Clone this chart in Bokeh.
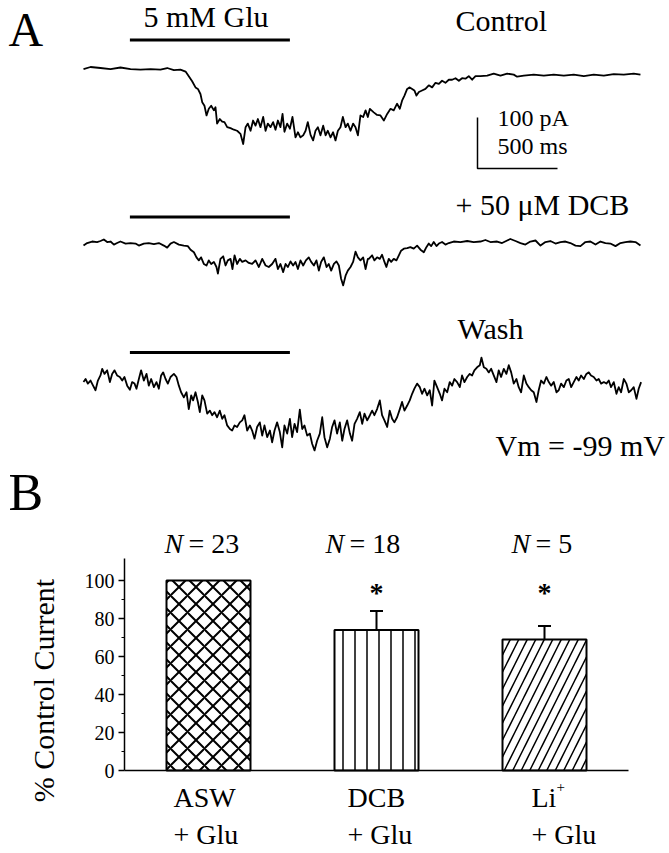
from bokeh.plotting import figure
from bokeh.models import Range1d, Label, FixedTicker, ColumnDataSource, Whisker, TeeHead
from bokeh.layouts import column
from bokeh.embed import file_html
from bokeh.resources import INLINE

SERIF = "Liberation Serif"

# ---------------- Panel A data: membrane current traces (ms, pA) ----------------
control_t = [0, 44, 106, 169, 231, 294, 356, 419, 481, 523, 565, 606, 638, 658, 679, 700, 715, 731, 742, 756,
             769, 783, 798, 815, 825, 835, 852, 867, 881, 898, 919, 940, 960, 981, 998, 1013, 1027, 1044, 1060, 1075,
             1090, 1106, 1123, 1138, 1152, 1169, 1185, 1200, 1215, 1231, 1244, 1256, 1273, 1290, 1306, 1325, 1340, 1356, 1373, 1388,
             1402, 1419, 1435, 1450, 1465, 1481, 1498, 1513, 1527, 1544, 1560, 1575, 1590, 1606, 1621, 1638, 1652, 1669, 1685, 1700,
             1715, 1731, 1748, 1763, 1777, 1790,
             1814, 1835, 1856, 1877, 1898, 1919, 1939, 1960, 1977, 1991, 2006, 2023, 2039, 2054, 2068, 2081, 2096, 2116, 2137, 2158,
             2179, 2200, 2221, 2241, 2262, 2283, 2304, 2325, 2346, 2366, 2387, 2408, 2429, 2450, 2481, 2523, 2564, 2606, 2648, 2689,
             2710, 2752, 2814, 2877, 2939, 3002, 3064, 3127, 3189, 3252, 3314, 3377, 3439, 3481]
control_pa = [-3, 1, -1, -3, 0, -3, -4, -3, -4, -1, -5, -4, -8, -17, -27, -39, -42, -52, -68, -75,
              -94, -81, -75, -84, -78, -110, -101, -106, -107, -117, -119, -122, -124, -130, -150, -117, -110, -124, -104, -114,
              -101, -117, -97, -124, -110, -117, -107, -122, -104, -117, -91, -126, -110, -120, -97, -137, -127, -137, -133, -124,
              -107, -132, -143, -124, -117, -133, -114, -133, -124, -137, -127, -143, -124, -117, -97, -117, -110, -124, -110, -117,
              -133, -94, -97, -84, -97, -81,
              -88, -93, -94, -104, -91, -81, -84, -71, -81, -65, -55, -42, -39, -42, -45, -55, -48, -45, -42, -35,
              -39, -30, -32, -26, -30, -24, -24, -21, -26, -21, -22, -17, -24, -17, -17, -16, -12, -16, -12, -14,
              -18, -16, -14, -16, -14, -16, -14, -17, -14, -16, -13, -14, -12, -14]

dcb_t = [0, 23, 54, 85, 106, 127, 148, 169, 190, 210, 231, 263, 294, 325, 346, 377, 408, 440, 471, 502,
         523, 544, 565, 596, 627, 652, 669, 690, 706, 721, 735, 752, 769, 783, 798, 815, 831, 840, 856, 873,
         888, 902, 919, 931, 944, 960, 977, 992, 1013, 1033, 1054, 1075, 1096, 1117, 1138, 1158, 1179, 1200, 1215, 1231,
         1248, 1263, 1277, 1294, 1310, 1325, 1340, 1356, 1373, 1390, 1408, 1423, 1440, 1456, 1471, 1485, 1502, 1519, 1533, 1548,
         1565, 1581, 1596, 1610, 1623, 1638, 1652, 1669, 1685, 1700, 1715, 1731, 1748, 1763, 1777,
         1783, 1804, 1818, 1835, 1852, 1866, 1881, 1893, 1908, 1923, 1939, 1956, 1971, 1985, 2002, 2023, 2043, 2064, 2085, 2106,
         2127, 2143, 2158, 2173, 2189, 2206, 2221, 2241, 2262, 2283, 2314, 2356, 2398, 2439, 2481, 2512, 2543, 2585, 2616, 2648,
         2668, 2700, 2731, 2762, 2793, 2825, 2856, 2887, 2918, 2950, 2981, 3012, 3043, 3075, 3106, 3137, 3168, 3200, 3231, 3262,
         3293, 3325, 3356, 3387, 3418, 3450, 3481]
dcb_pa = [-10, -5, -2, -3, -1, 2, -3, -2, -8, -5, -2, -6, -5, -6, -10, -6, -5, -7, -5, -10,
          -14, -6, -3, -8, -10, -11, -18, -23, -33, -39, -33, -46, -49, -39, -46, -42, -52, -65, -36, -31,
          -49, -39, -36, -56, -29, -46, -36, -42, -39, -44, -46, -39, -52, -36, -49, -52, -46, -36, -56, -46,
          -62, -46, -52, -41, -49, -42, -56, -39, -49, -39, -33, -42, -49, -39, -59, -42, -33, -52, -46, -59,
          -46, -41, -49, -75, -88, -69, -59, -52, -42, -22, -33, -39, -33, -56, -36,
          -36, -29, -39, -33, -36, -28, -42, -52, -36, -42, -36, -39, -29, -20, -16, -15, -13, -16, -10, -18,
          -23, -13, -6, -11, -3, -11, -6, -3, -8, -5, -2, -3, -1, -3, -2, 1, -3, -2, -5, 0,
          3, -1, -5, -8, -2, 0, -10, -3, -1, -6, -3, -2, -5, -10, -11, -3, -2, -8, -2, -5,
          -6, -11, -5, -3, -2, -3, -10]

wash_t = [0, 13, 27, 44, 60, 75, 90, 106, 117, 131, 148, 165, 179, 194, 210, 227, 242, 256, 273, 290,
          304, 319, 331, 346, 360, 377, 394, 408, 423, 440, 456, 471, 485, 498, 513, 527, 544, 565, 581, 596,
          610, 627, 644, 658, 673, 685, 700, 715, 727, 742, 756, 773, 790, 804, 819, 835, 852, 867, 881, 898,
          915, 929, 944, 960, 977, 992, 1006, 1023, 1040, 1054, 1069, 1085, 1102, 1117, 1131, 1148, 1165, 1179, 1194, 1210,
          1227, 1242, 1256, 1273, 1290, 1304, 1319, 1335, 1352, 1367, 1381, 1398, 1415, 1429, 1444, 1460, 1477, 1492, 1506, 1523,
          1540, 1554, 1569, 1585, 1602, 1617, 1631, 1648, 1665, 1679, 1694, 1710, 1727, 1742, 1756, 1773, 1790,
          1804, 1818, 1835, 1852, 1866, 1881, 1898, 1914, 1929, 1943, 1960, 1977, 1991, 2006, 2023, 2039, 2054, 2068, 2085, 2102,
          2116, 2131, 2148, 2164, 2179, 2193, 2210, 2227, 2241, 2256, 2273, 2289, 2304, 2318, 2335, 2352, 2366, 2381, 2398, 2414,
          2429, 2443, 2460, 2477, 2487, 2502, 2518, 2533, 2548, 2564, 2581, 2595, 2610, 2627, 2643, 2658, 2673, 2689, 2706, 2720,
          2735, 2752, 2768, 2783, 2798, 2814, 2831, 2845, 2860, 2877, 2893, 2908, 2923, 2939, 2956, 2970, 2985, 3002, 3018, 3033,
          3048, 3064, 3081, 3095, 3110, 3127, 3143, 3158, 3172, 3189, 3206, 3220, 3235, 3252, 3268, 3283, 3297, 3314, 3331, 3345,
          3360, 3377, 3393, 3408, 3423, 3439, 3456, 3470, 3485]
wash_pa = [-7, -1, -10, -4, -14, -23, -4, 6, 19, 9, 16, -7, 9, 16, 6, 3, -4, 3, -14, -22,
           -7, -10, -20, -1, 16, -4, 9, -14, -1, -17, -7, -20, 6, 12, -1, -10, 3, 9, 3, -14,
           -27, -37, -27, -60, -33, -43, -27, -46, -66, -33, -43, -69, -63, -72, -66, -76, -63, -79, -72, -92,
           -99, -102, -92, -95, -86, -82, -72, -102, -92, -102, -118, -95, -86, -112, -92, -115, -102, -125, -102, -86,
           -105, -135, -92, -108, -79, -115, -89, -105, -61, -99, -92, -112, -108, -128, -141, -122, -108, -76, -115, -135,
           -118, -95, -82, -108, -86, -122, -99, -82, -108, -122, -89, -79, -66, -89, -69, -82, -72,
           -63, -72, -60, -43, -72, -82, -95, -63, -79, -86, -76, -60, -46, -63, -53, -43, -30, -20, -10, -17,
           -30, -20, -33, -23, -53, -4, -17, -30, -43, -20, -27, -7, -14, -1, -7, -17, 6, -7, 3, 9,
           6, 16, 22, 26, 41, 22, 19, 12, 19, 6, -7, 16, 3, 19, 9, 26, 12, -10, -1, -17,
           -27, 6, -10, -17, -23, -27, -46, -23, -4, -10, 3, -7, -14, -7, -27, -23, -10, -17, -4, -1,
           -17, -7, 3, -4, 6, -1, 9, 12, 6, 3, -4, -1, -10, -7, -10, -4, -17, -7, -30, -17,
           -27, -1, -10, -27, -23, -17, -40, -20, -7]

trace_names = ["Control", "+ 50 \u03bcM DCB", "Wash"]
glu_on_ms, glu_off_ms = 290, 1290          # 5 mM Glu application
scale_pa, scale_ms = 100, 500              # scale bar

# ---------------- Panel B data ----------------
cats = ["ASW", "DCB", "Li"]
cat_line1 = ["ASW", "DCB", "Li"]
cat_line2 = ["+ Glu", "+ Glu", "+ Glu"]
pct_current = [100, 74, 69]
pct_error = [0, 10, 7]
n_cells = [23, 18, 5]
significant = [False, True, True]
y_ticks = [0, 20, 40, 60, 80, 100]
y_minor = [10, 30, 50, 70, 90]
y_axis_max = 111.5

# ---------------- layout constants (page pixels) ----------------
W, H = 669, 853
HA = 527
HB = H - HA
PX_PER_MS, PX_PER_PA = 0.16, 0.51
T0_PX, Y0_PX = 83, 67
BASE_SHIFT = 0.385   # svg text sits this many em below the anchor

def tx(px):
    return (px - T0_PX) / PX_PER_MS

def iy(py):
    return (Y0_PX - py) / PX_PER_PA

offsets = [0, iy(240), iy(378)]
bar_rel = [54, 46, 51]

pa = figure(width=W, height=HA, x_range=Range1d(tx(0), tx(W)),
            y_range=Range1d(iy(HA), iy(0)), output_backend="svg",
            toolbar_location=None, min_border=0, x_axis_location=None,
            y_axis_location=None, outline_line_color=None)
pa.frame_align = False
pa.xgrid.visible = False
pa.ygrid.visible = False

for (tt, vv), off, br in zip([(control_t, control_pa), (dcb_t, dcb_pa), (wash_t, wash_pa)], offsets, bar_rel):
    pa.line(tt, [v + off for v in vv], line_width=1.8, color="black", line_join="round")
    pa.segment(x0=[glu_on_ms], x1=[glu_off_ms], y0=[off + br], y1=[off + br], line_width=3, color="black")

sb_t, sb_i = tx(477), iy(117)
pa.line([sb_t, sb_t, sb_t + scale_ms], [sb_i, sb_i - scale_pa, sb_i - scale_pa], line_width=1.5, color="black")

def lab_a(text, px, py, size, **kw):
    py = py - BASE_SHIFT * size
    pa.add_layout(Label(x=tx(px), y=iy(py), text=text, text_font=SERIF, text_font_size=f"{size}px",
                        text_color="black", text_baseline="alphabetic", **kw))

lab_a("A", 8, 47, 48)
lab_a("5 mM Glu", 143, 28, 30)
lab_a(trace_names[0], 455, 32, 30)
lab_a(f"{scale_pa} pA", 497, 127, 24)
lab_a(f"{scale_ms} ms", 497, 155, 24)
lab_a(trace_names[1], 455, 216, 30)
lab_a(trace_names[2], 457, 340, 30)
lab_a("Vm = -99 mV", 495, 457, 30)
lab_a("B", 8, 512, 52)

# ---------------- Panel B ----------------
AX_PX = 124          # page x of the y axis
ZERO_PX = 770        # page y of 0 %
PX_PER_UNIT = 1.9
PX_PER_CAT = 168

def by(py):
    return (ZERO_PX - py) / PX_PER_UNIT

pb = figure(width=W, height=HB, x_range=Range1d(0, (W - AX_PX) / PX_PER_CAT),
            y_range=Range1d(by(H), by(HA)), output_backend="svg", toolbar_location=None,
            outline_line_color=None, x_axis_location=None,
            min_border_left=AX_PX, min_border_right=0, min_border_top=0, min_border_bottom=0)
pb.frame_align = False
pb.xgrid.visible = False
pb.ygrid.visible = False

xs = [i + 0.5 for i in range(len(cats))]
hatches = ["diagonal_cross", "vertical_line", "right_diagonal_line"]
hscales = [17, 12, 17]
hweights = [2, 1.5, 1.5]
for x, v, h, s, w in zip(xs, pct_current, hatches, hscales, hweights):
    pb.vbar(x=[x], top=[v], width=0.5, bottom=0, fill_color="white", line_color="black",
            line_width=2, hatch_pattern=h, hatch_color="black", hatch_scale=s, hatch_weight=w)

# baseline (x axis line)
pb.segment(x0=[-6 / PX_PER_CAT], x1=[len(cats)], y0=[0], y1=[0], line_width=1.5, color="black")

err_src = ColumnDataSource(dict(
    x=[x for x, e in zip(xs, pct_error) if e > 0],
    lower=[v for v, e in zip(pct_current, pct_error) if e > 0],
    upper=[v + e for v, e in zip(pct_current, pct_error) if e > 0]))
pb.add_layout(Whisker(source=err_src, base="x", lower="lower", upper="upper", line_width=2,
                      line_color="black", upper_head=TeeHead(size=13, line_width=2, line_color="black"),
                      lower_head=None))

ya = pb.yaxis[0]
ya.bounds = (0, y_axis_max)
ya.ticker = FixedTicker(ticks=y_ticks, minor_ticks=y_minor)
ya.axis_line_width = 1.5
ya.axis_line_color = "black"
ya.major_tick_line_color = "black"
ya.minor_tick_line_color = "black"
ya.major_tick_line_width = 1.5
ya.major_tick_out = 6
ya.major_tick_in = 0
ya.minor_tick_out = 3
ya.minor_tick_in = 0
ya.major_label_text_font = SERIF
ya.major_label_text_font_size = "20px"
ya.major_label_text_color = "black"
ya.major_label_standoff = 4
ya.axis_label = "% Control Current"
ya.axis_label_text_font = SERIF
ya.axis_label_text_font_size = "30px"
ya.axis_label_text_font_style = "normal"
ya.axis_label_text_color = "black"
ya.axis_label_standoff = 22

def lab_b(text, x, xoff, py, size, style="normal", align="left"):
    py = py - BASE_SHIFT * size
    pb.add_layout(Label(x=x, y=by(py), x_offset=xoff, text=text, text_font=SERIF,
                        text_font_size=f"{size}px", text_font_style=style, text_color="black",
                        text_align=align, text_baseline="alphabetic"))

n_left = [-44, -51, -33]
l1_left = [-35, -29, -13]
for i, cx in enumerate(xs):
    lab_b("N", cx, n_left[i], 554, 28, style="italic")
    lab_b(f"= {n_cells[i]}", cx, n_left[i] + 24, 554, 28)
    if significant[i]:
        lab_b("*", cx, 0, 603, 28, style="bold", align="center")
    lab_b(cat_line1[i], cx, l1_left[i], 808, 28)
    lab_b(cat_line2[i], cx, l1_left[i], 845, 28)
lab_b("+", xs[2], l1_left[2] + 25, 792, 15)

page = column(pa, pb, spacing=0)
open("out.html", "w").write(file_html(page, INLINE))
